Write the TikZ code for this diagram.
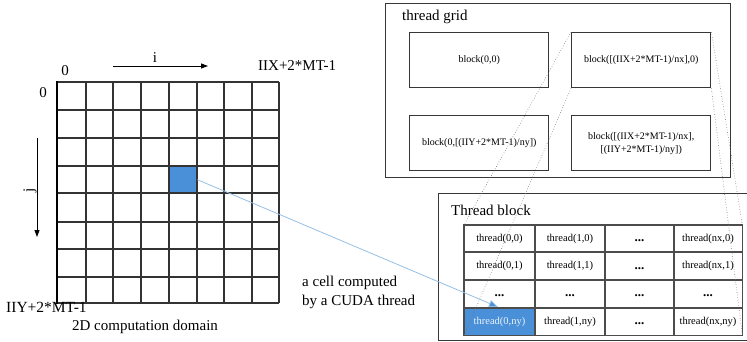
\documentclass[tikz,border=0pt]{standalone}
\usepackage{fontspec}
\setmainfont{Liberation Serif}
\usetikzlibrary{arrows.meta}

\definecolor{cellblue}{RGB}{74,144,217}
\definecolor{linkblue}{RGB}{150,190,228}
\definecolor{framegray}{RGB}{55,55,55}

\tikzset{
  gridline/.style={draw=black!80, line width=1.2pt},
  frame/.style={draw=framegray, line width=1.4pt},
  blockbox/.style={frame, minimum width=139pt, minimum height=55pt, inner sep=0pt,
                   anchor=north west, font=\fontsize{10}{12}\selectfont, align=center},
  tcell/.style={font=\fontsize{10.5}{12}\selectfont, inner sep=0pt},
  dots/.style={font=\bfseries\fontsize{13}{14}\selectfont, inner sep=0pt},
  zoomline/.style={draw=black!55, line width=0.6pt, dotted},
  label/.style={font=\fontsize{15}{18}\selectfont, inner sep=0pt},
  axisarrow/.style={draw=black, line width=0.9pt, -{Triangle[length=7pt,width=5pt]}},
}

\begin{document}
\begin{tikzpicture}[x=1pt,y=-1pt]
\useasboundingbox (0,0) rectangle (747,342);
\clip (0,0) rectangle (747,342);

% ---- 2D computation domain: 8 x 8 cells ----
\node[fill=cellblue, minimum width=28pt, minimum height=27pt, inner sep=0pt, anchor=north west]
  (cell) at (169,166) {};
\foreach \x in {86,113,141,169,197,224,252,279}
  \draw[gridline] (\x,82) -- (\x,303);
\foreach \y in {82,110,138,166,193,222,249,277,303}
  \draw[gridline] (57,\y) -- (279,\y);
\draw[draw=black, line width=2.4pt] (57,81) -- (57,304);

\node[label] (zx) at (65,71) {0};
\node[label] (zy) at (43,93) {0};
\node[label] (ilab) at (155,58) {i};
\coordinate (ia) at (113,66);
\coordinate (ib) at (208,66);
\draw[axisarrow] (ia) -- (ib);
\node[label, rotate=90] (jlab) at (30,190) {j};
\coordinate (ja) at (37,138);
\coordinate (jb) at (37,237);
\draw[axisarrow] (ja) -- (jb);
\node[label, anchor=west] (xmax) at (258,66) {IIX+2*MT-1};
\node[label, anchor=west, font=\fontsize{15.5}{18}\selectfont] (ymax) at (6,307) {IIY+2*MT-1};
\node[label] (dom) at (145,327) {2D computation domain};

% ---- thread grid ----
\node[frame, anchor=north west, minimum width=345pt, minimum height=174pt, inner sep=0pt]
  (grid) at (385,3) {};
\node[label, anchor=west] (gtitle) at (402,17) {thread grid};
\node[blockbox] (b00) at (409,32) {block(0,0)};
\node[blockbox] (b10) at (571,32) {block([(IIX+2*MT-1)/nx],0)};
\node[blockbox] (b01) at (409,115) {block(0,[(IIY+2*MT-1)/ny])};
\node[blockbox] (b11) at (571,115) {block([(IIX+2*MT-1)/nx],\\[1pt][(IIY+2*MT-1)/ny])};

% ---- thread block ----
\node[frame, anchor=north west, minimum width=320pt, minimum height=147pt, inner sep=0pt]
  (tblock) at (438,193) {};
\node[label, anchor=west] (ttitle) at (451,210) {Thread block};

\node[fill=cellblue, minimum width=71pt, minimum height=27pt, inner sep=0pt, anchor=north west]
  (t0ny) at (464,308) {};
\node[minimum width=278pt, minimum height=110pt, inner sep=0pt, anchor=north west]
  (tbl) at (464,225) {};
\foreach \x in {535,605,674}
  \draw[gridline, draw=black!70] (\x,225) -- (\x,335);
\foreach \y in {252,280,308}
  \draw[gridline, draw=black!70] (464,\y) -- (742,\y);
\draw[gridline, draw=black!70] (tbl.north west) rectangle (tbl.south east);

% cell labels, column centres 499.5 / 570 / 639.5 / 708
\node[tcell] (c00) at (499.5,238.5) {thread(0,0)};
\node[tcell] (c10) at (570,238.5) {thread(1,0)};
\node[dots]  (c20) at (639.5,241) {...};
\node[tcell] (c30) at (708,238.5) {thread(nx,0)};
\node[tcell] (c01) at (499.5,266) {thread(0,1)};
\node[tcell] (c11) at (570,266) {thread(1,1)};
\node[dots]  (c21) at (639.5,268.5) {...};
\node[tcell] (c31) at (708,266) {thread(nx,1)};
\node[dots]  (c02) at (499.5,296) {...};
\node[dots]  (c12) at (570,296) {...};
\node[dots]  (c22) at (639.5,296) {...};
\node[dots]  (c32) at (708,296) {...};
\node[tcell, text=white!88!cellblue] (c03) at (499.5,321.5) {thread(0,ny)};
\node[tcell] (c13) at (570,321.5) {thread(1,ny)};
\node[dots]  (c23) at (639.5,324) {...};
\node[tcell] (c33) at (708,321.5) {thread(nx,ny)};

% perspective lines from the selected block to the enlarged thread block
\draw[zoomline] (b10.north west) -- (tbl.north west);
\draw[zoomline] (b10.south west) -- (tbl.south west);
\draw[zoomline] (b10.north east) -- (tbl.north east);
\draw[zoomline] (b10.south east) -- (tbl.south east);

% one domain cell is computed by one thread
\coordinate (tip) at (498,307);
\draw[draw=linkblue, line width=0.8pt, -{Triangle[length=9pt,width=7pt,fill=cellblue]}]
  (cell.east) -- (tip);
\node[label, align=left, anchor=west, font=\fontsize{15}{19}\selectfont] (note) at (302,292)
  {a cell computed\\by a CUDA thread};
\end{tikzpicture}
\end{document}
